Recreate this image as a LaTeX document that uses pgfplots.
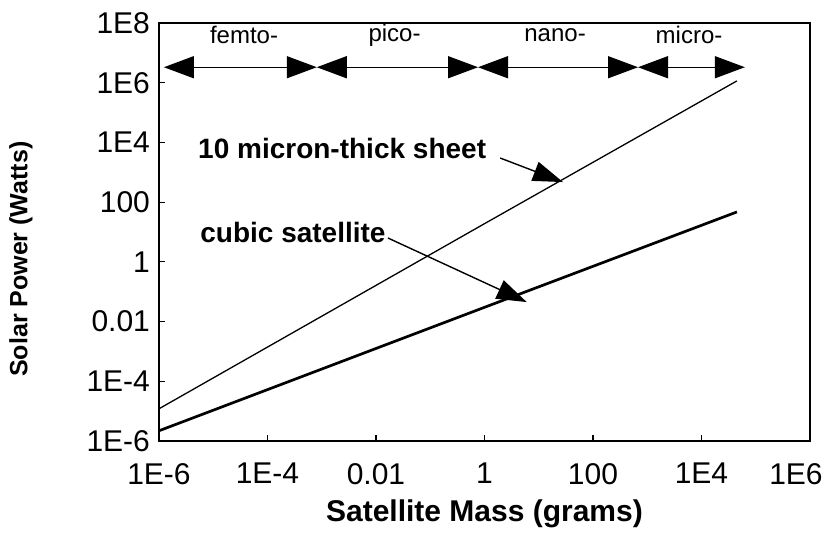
\documentclass[border=0pt]{standalone}
\usepackage{fontspec}
\setmainfont{Liberation Sans}
\usepackage{pgfplots}
\pgfplotsset{compat=1.18}
\usetikzlibrary{arrows.meta}

\begin{document}
\begin{tikzpicture}
\useasboundingbox (-79.5pt,-50.5pt) rectangle (333pt,220.5pt);
\begin{axis}[
  xmode=log, ymode=log,
  scale only axis, width=325.5pt, height=209pt,
  xmin=1e-6, xmax=1e6, ymin=1e-6, ymax=1e8,
  xtick={1e-6,1e-4,1e-2,1,1e2,1e4,1e6},
  xticklabels={1E-6,1E-4,0.01,1,100,1E4,{\hspace*{-14pt}1E6}},
  ytick={1e-6,1e-4,1e-2,1,1e2,1e4,1e6,1e8},
  yticklabels={1E-6,1E-4,0.01,1,100,1E4,1E6,1E8},
  minor xtick={}, minor ytick={},
  tick pos=left, tick align=inside, major tick length=3pt,
  axis line style={line width=0.8pt},
  tick style={line width=0.6pt,black},
  ticklabel style={font=\fontsize{15}{17}\selectfont},
  xticklabel style={yshift=-7.5pt},
  yticklabel style={xshift=-1pt},
  xlabel={Satellite Mass (grams)},
  ylabel={Solar Power (Watts)},
  xlabel style={font=\bfseries\fontsize{15}{17}\selectfont, at={(axis description cs:0.5,-0.175)},anchor=center},
  ylabel style={font=\bfseries\fontsize{12.5}{15}\selectfont, at={(axis description cs:-0.212,0.435)},anchor=center},
  clip=false,
]
% 10 micron-thick sheet
\addplot[black, line width=0.65pt] coordinates {(1e-6,1.2e-5) (1,19) (4.5e4,1.15e6)};
% cubic satellite
\addplot[black, line width=1.35pt] coordinates {(1e-6,2.2e-6) (1,0.03) (4.5e4,47)};

% size-class arrows
\tikzset{tri/.style={{Triangle[length=15pt,width=11pt]}-{Triangle[length=15pt,width=11pt]}, line width=0.7pt}}
\draw[tri] (axis cs:1.23e-6,3.3e6) -- (axis cs:8.1e-4,3.3e6);
\draw[tri] (axis cs:8.1e-4,3.3e6) -- (axis cs:0.76,3.3e6);
\draw[tri] (axis cs:0.76,3.3e6) -- (axis cs:676,3.3e6);
\draw[tri] (axis cs:676,3.3e6) -- (axis cs:6.3e4,3.3e6);
\node[font=\fontsize{12}{14}\selectfont] at (axis cs:3.7e-5,4e7) {femto-};
\node[font=\fontsize{12}{14}\selectfont] at (axis cs:0.022,4e7) {pico-};
\node[font=\fontsize{12}{14}\selectfont] at (axis cs:20,4e7) {nano-};
\node[font=\fontsize{12}{14}\selectfont] at (axis cs:5900,4e7) {micro-};

% annotations
\draw[-{Triangle[length=15pt,width=10pt]}, line width=0.7pt] (axis cs:1.95,3000) -- (axis cs:28,470);
\node[anchor=west, inner sep=0pt, font=\bfseries\fontsize{14}{16}\selectfont] at (axis cs:5.2e-6,6500) {10 micron-thick sheet};
\draw[-{Triangle[length=15pt,width=10pt]}, line width=0.7pt] (axis cs:0.0166,6.3) -- (axis cs:6.0,0.045);
\node[anchor=west, inner sep=0pt, font=\bfseries\fontsize{14}{16}\selectfont] at (axis cs:5.7e-6,9.3) {cubic satellite};
\end{axis}
\end{tikzpicture}
\end{document}
